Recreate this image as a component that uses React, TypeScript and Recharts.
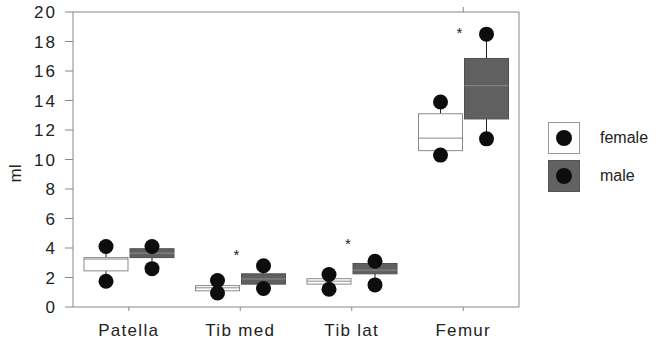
import React from 'react';
import { ComposedChart, Bar, XAxis, YAxis } from 'recharts';

const categories = ['Patella', 'Tib med', 'Tib lat', 'Femur'];
const femaleMin = [1.75, 0.95, 1.2, 10.3];
const femaleQ1 = [2.45, 1.1, 1.55, 10.6];
const femaleMedian = [3.25, 1.3, 1.75, 11.45];
const femaleQ3 = [3.35, 1.45, 1.92, 13.1];
const femaleMax = [4.1, 1.8, 2.2, 13.9];
const maleMin = [2.6, 1.25, 1.5, 11.4];
const maleQ1 = [3.35, 1.55, 2.25, 12.75];
const maleMedian = [3.65, 1.9, 2.5, 15.0];
const maleQ3 = [3.95, 2.25, 2.95, 16.85];
const maleMax = [4.1, 2.8, 3.1, 18.5];
const significance = [null, 3.7, 4.5, 18.8];
const yTicks = [0, 2, 4, 6, 8, 10, 12, 14, 16, 18, 20];
const legendItems = ['female', 'male'];

const data = categories.map((c, i) => ({
  name: c,
  female: [femaleMin[i], femaleMax[i]],
  male: [maleMin[i], maleMax[i]],
  f: { min: femaleMin[i], q1: femaleQ1[i], med: femaleMedian[i], q3: femaleQ3[i], max: femaleMax[i] },
  m: { min: maleMin[i], q1: maleQ1[i], med: maleMedian[i], q3: maleQ3[i], max: maleMax[i] },
  star: significance[i],
}));

const FONT = '"Liberation Sans", Arial, Helvetica, sans-serif';

const makeBoxShape = (key: 'f' | 'm', fill: string, stroke: string, medianColor: string, withStar: boolean) =>
  (props: any) => {
    const { x, y, width, height, payload } = props;
    const s = payload[key];
    const h = Math.abs(height);
    const top = height >= 0 ? y : y + height;
    const ppu = h / (s.max - s.min || 1);
    const yOf = (v: number) => top + (s.max - v) * ppu;
    const cx = x + width / 2;
    return (
      <g>
        <line x1={cx} x2={cx} y1={yOf(s.max)} y2={yOf(s.min)} stroke="#222" strokeWidth={1} />
        <rect x={x} y={yOf(s.q3)} width={width} height={yOf(s.q1) - yOf(s.q3)} fill={fill} stroke={stroke} strokeWidth={1} />
        <line x1={x} x2={x + width} y1={yOf(s.med)} y2={yOf(s.med)} stroke={medianColor} strokeWidth={1} />
        <circle cx={cx} cy={yOf(s.max)} r={7.5} fill="#0d0d0d" />
        <circle cx={cx} cy={yOf(s.min)} r={7.5} fill="#0d0d0d" />
        {withStar && payload.star != null ? (
          <text x={x + width - 3} y={yOf(payload.star) + 8} textAnchor="middle" fontSize={15} fontFamily={FONT} fill="#222">*</text>
        ) : null}
      </g>
    );
  };

const FemaleShape = makeBoxShape('f', '#ffffff', '#8a8a8a', '#8a8a8a', true);
const MaleShape = makeBoxShape('m', '#606060', '#505050', '#8c8c8c', false);

const legendStyles = [
  { fill: '#ffffff', stroke: '#999' },
  { fill: '#626262', stroke: '#555' },
];

const LegendBlock = () => (
  <div style={{ position: 'absolute', left: 548, top: 122, fontFamily: FONT, fontSize: 16, color: '#222' }}>
    {legendItems.map((label, i) => (
      <div key={label} style={{ display: 'flex', alignItems: 'center', height: 32, marginBottom: i === 0 ? 6 : 0 }}>
        <svg width={32} height={32} style={{ display: 'block' }}>
          <rect x={0.5} y={0.5} width={31} height={31} fill={legendStyles[i].fill} stroke={legendStyles[i].stroke} />
          <circle cx={16} cy={16} r={8} fill="#0d0d0d" />
        </svg>
        <span style={{ marginLeft: 20 }}>{label}</span>
      </div>
    ))}
  </div>
);

const EmptyTick = () => <g />;

export default function App() {
  return (
    <div style={{ position: 'absolute', left: 0, top: 0, width: 659, height: 344, background: '#fff' }}>
      <ComposedChart
        width={659}
        height={344}
        data={data}
        margin={{ top: 4, right: 130, bottom: 7, left: 13 }}
        barSize={44}
        barGap={2}
      >
        <XAxis
          xAxisId="bottom"
          dataKey="name"
          type="category"
          height={30}
          tickSize={4}
          tickMargin={13}
          stroke="#888"
          tick={{ fill: '#222', fontSize: 17, fontFamily: FONT, letterSpacing: 1.3 }}
        />
        <XAxis
          xAxisId="top"
          dataKey="name"
          type="category"
          orientation="top"
          height={8}
          tickSize={5}
          ticks={['Femur']}
          tick={<EmptyTick />}
          stroke="#888"
        />
        <YAxis
          yAxisId="left"
          domain={[0, 20]}
          ticks={yTicks}
          interval={0}
          width={60}
          tickSize={8}
          tickMargin={8}
          stroke="#888"
          tick={{ fill: '#222', fontSize: 17, fontFamily: FONT, letterSpacing: 2 }}
          label={{ value: 'ml', angle: -90, position: 'insideLeft', offset: 0, dx: 2, dy: 23, fill: '#222', fontSize: 17, fontFamily: FONT }}
        />
        <YAxis
          yAxisId="right"
          orientation="right"
          domain={[0, 20]}
          ticks={yTicks}
          interval={0}
          width={10}
          tickSize={8}
          tick={<EmptyTick />}
          stroke="#888"
        />
        <Bar xAxisId="bottom" yAxisId="left" dataKey="female" shape={<FemaleShape />} isAnimationActive={false} />
        <Bar xAxisId="bottom" yAxisId="left" dataKey="male" shape={<MaleShape />} isAnimationActive={false} />
      </ComposedChart>
      <LegendBlock />
    </div>
  );
}
